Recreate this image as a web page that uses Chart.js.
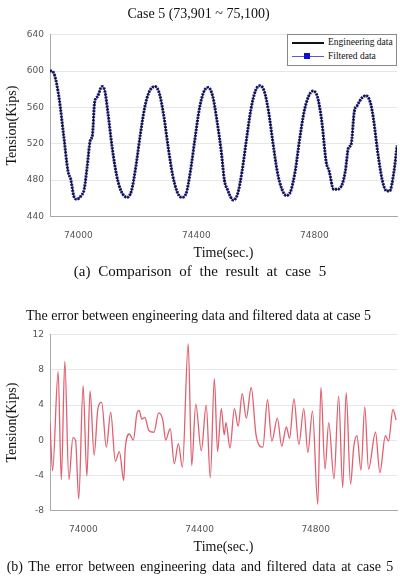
<!DOCTYPE html>
<html><head><meta charset="utf-8">
<script src="https://cdn.jsdelivr.net/npm/chart.js@4"></script>
<style>
body{margin:0;width:400px;height:580px;background:#fff;position:relative;overflow:hidden;font-family:"Liberation Serif",serif}
.c{position:absolute;left:0;width:400px}
.cap{position:absolute;left:0;width:400px;text-align:center;font-size:15px;color:#111;white-space:nowrap;word-spacing:4px}
#leg{position:absolute;left:287px;top:34px;width:108px;height:30px;border:1px solid #888;background:#fff;font-size:9.5px;color:#111}
#leg div{position:relative;height:14px;line-height:14px;padding-left:40px}
#leg span{position:absolute;left:4px;top:7px;width:32px;height:0;border-top:2px solid #111}
</style></head><body>
<div class="c" style="top:0;height:266px"><canvas id="a"></canvas></div>
<div class="cap" style="top:263px">(a) Comparison of the result at case 5</div>
<div id="leg"><div><span></span>Engineering data</div><div><span style="border-color:#5b5bd6;border-top-width:1px"></span><i style="position:absolute;left:16px;top:4px;width:6px;height:6px;background:#1010d0"></i>Filtered data</div></div>
<div class="c" style="top:302px;height:258px"><canvas id="b"></canvas></div>
<div class="cap" style="top:559px;font-size:14px;word-spacing:2px">(b) The error between engineering data and filtered data at case 5</div>
<script>
const timeA=[73904,73910,73920,73935,73950,73965,73975,73985,73995,74010,74020,74030,74040,74048,74055,74065,74080,74090,74100,74115,74130,74145,74165,74180,74195,74210,74225,74240,74260,74275,74290,74305,74320,74335,74350,74365,74380,74395,74410,74425,74440,74455,74470,74485,74495,74505,74525,74540,74555,74570,74585,74600,74615,74630,74645,74660,74675,74690,74705,74720,74735,74750,74765,74780,74795,74810,74825,74840,74850,74865,74880,74895,74905,74915,74925,74935,74945,74960,74975,74990,75000,75015,75030,75045,75055,75070,75080];
const tension=[600,600,595,570,530,490,480,462,459,463,470,495,523,530,565,572,583,578,555,515,485,468,461,468,495,530,560,577,583,575,550,515,485,467,461,465,490,525,558,577,582,573,545,510,480,470,458,465,490,525,558,578,584,578,555,520,488,470,463,468,490,525,555,572,578,572,545,500,490,470,470,476,490,515,520,555,562,570,573,565,548,510,480,468,468,490,518];
const timeB=[73885,73894,73913,73924,73936,73950,73964,73973,73984,73999,74012,74023,74037,74050,74063,74079,74094,74110,74124,74139,74144,74158,74172,74184,74192,74201,74212,74225,74243,74259,74274,74283,74299,74313,74327,74341,74361,74373,74387,74406,74423,74437,74451,74462,74475,74485,74491,74505,74520,74533,74547,74561,74578,74595,74618,74634,74649,74668,74683,74699,74710,74725,74742,74759,74773,74789,74807,74818,74832,74845,74863,74879,74893,74905,74920,74931,74942,74956,74969,74982,75006,75021,75040,75051,75066,75077];
const errorB=[2,-3.5,7.8,-4.5,9,-4.5,0.3,0,-6.7,6.2,-4.1,5.6,-1.7,3.6,4.3,-0.8,3.2,-2.4,-1.3,-4.6,-1,0.7,0,3,3.4,2.4,2.6,1.1,0.9,3.1,2.2,0,1.3,-2.7,-0.4,-3.1,11,-2.9,4.1,-1.2,4,-4.3,7,-1.3,3.6,0.6,2,-0.9,3.6,1.6,5.3,2.5,6,0.5,-0.8,4.6,-0.1,2.5,-0.7,1.5,0.2,4.7,-0.5,3.6,-1.4,3.3,-7.3,6,-3.3,2,-4.4,5,-5.4,5.4,-5,-0.8,0.5,-3.4,3.8,-3.3,0.9,-3.7,0.5,-0.1,3.5,2.3];
const xTicks=[74000,74400,74800];
const ticksA=[440,480,520,560,600,640];
const ticksB=[-8,-4,0,4,8,12];

const pts=(xs,ys)=>xs.map((x,i)=>({x,y:ys[i]}));
function mk(id,datasets,xmin,ymin,ymax,yt,title,padB){
 return new Chart(document.getElementById(id),{type:'line',data:{datasets},
 options:{responsive:true,maintainAspectRatio:false,animation:false,
  layout:{padding:{left:0,right:3,top:0,bottom:0}},
  plugins:{legend:{display:false},tooltip:{enabled:false},
   title:{display:true,text:title,color:'#111',font:{family:'Liberation Serif',size:14,weight:'normal'},padding:{top:6,bottom:padB}}},
  elements:{point:{radius:0},line:{cubicInterpolationMode:'monotone'}},
  scales:{
   x:{type:'linear',min:xmin,max:75080,afterBuildTicks:s=>{s.ticks=xTicks.map(v=>({value:v}))},
    grid:{display:false},border:{color:'#aaa'},
    ticks:{color:'#555',font:{family:'DejaVu Sans',size:9},maxRotation:0,padding:6,callback:v=>String(v)},
    title:{display:true,text:'Time(sec.)',color:'#111',font:{family:'Liberation Serif',size:14},padding:{top:-2}}},
   y:{min:ymin,max:ymax,afterBuildTicks:s=>{s.ticks=yt.map(v=>({value:v}))},afterFit:s=>{s.width=50},
    grid:{color:'#e6e6e6',drawTicks:false},border:{color:'#aaa'},
    ticks:{color:'#555',font:{family:'DejaVu Sans',size:9},padding:6},
    title:{display:true,text:'Tension(Kips)',color:'#111',font:{family:'Liberation Serif',size:14},padding:{bottom:2}}}}}});
}
mk('a',[
 {data:pts(timeA,tension),borderColor:'#111',borderWidth:1,tension:0.4},
 {data:pts(timeA,tension),borderColor:'#1a1a9a',borderWidth:3,borderDash:[2,1],tension:0.4}
],73904,440,640,ticksA,'Case 5 (73,901 ~ 75,100)',12);
mk('b',[{data:pts(timeB,errorB),borderColor:'#e06070',borderWidth:1.3,tension:0.4}],73885,-8,12,ticksB,'The error between engineering data and filtered data at case 5',10);
</script></body></html>
